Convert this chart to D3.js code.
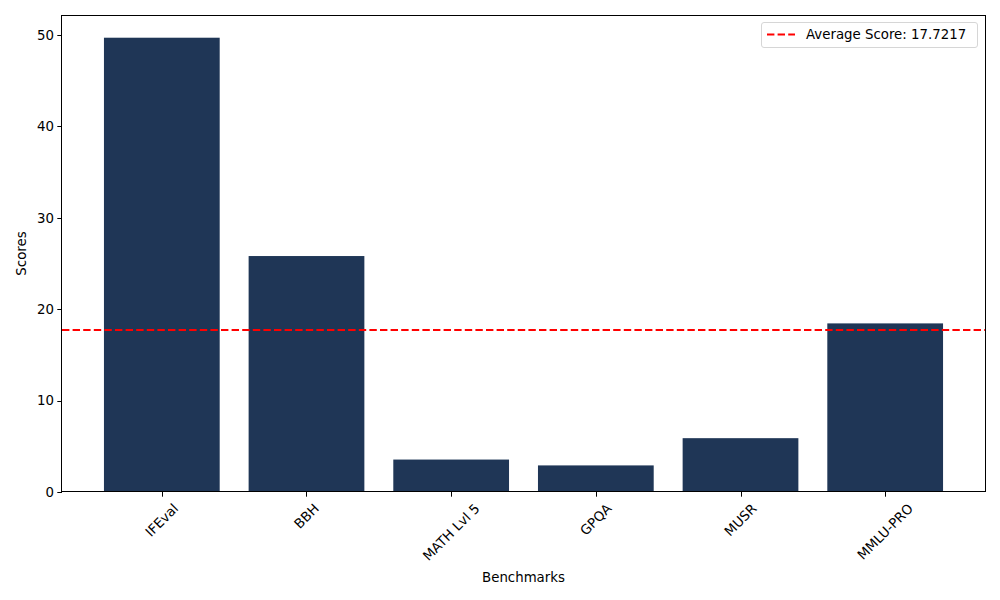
<!DOCTYPE html>
<html><head><meta charset="utf-8">
<script src="https://cdn.jsdelivr.net/npm/d3@7"></script>
<style>body{margin:0;background:#fff}svg{display:block}text{font-family:"DejaVu Sans",sans-serif;fill:#000}</style>
</head><body><svg id="c" width="1000" height="600"></svg>
<script>
const categories = ["IFEval","BBH","MATH Lvl 5","GPQA","MUSR","MMLU-PRO"];
const scores = [49.71, 25.82, 3.55, 2.91, 5.89, 18.45];
const avgLabel = "Average Score: 17.7217";
const yTicks = [0,10,20,30,40,50];

const svg = d3.select("#c");
const L=62, R=985, T=15, B=492;
const avg = d3.mean(scores);
const x = d3.scaleLinear().domain([-0.69, 5.69]).range([L,R]);
const y = d3.scaleLinear().domain([0, d3.max(scores)*1.05]).range([B,T]);
const fs = 13.33;

svg.append("g").selectAll("rect").data(scores).join("rect")
  .attr("x",(d,i)=>x(i-0.4)).attr("width",(d,i)=>x(i+0.4)-x(i-0.4))
  .attr("y",d=>y(d)).attr("height",d=>B-y(d)).attr("fill","#1f3656");

svg.append("line").attr("x1",L).attr("x2",R).attr("y1",y(avg)).attr("y2",y(avg))
  .attr("stroke","#ff0000").attr("stroke-width",2).attr("stroke-dasharray","7.4,3.2");

// y axis
const ya = svg.append("g");
yTicks.forEach(t=>{
  const yy = Math.round(y(t))+0.5;
  ya.append("line").attr("x1",L-4.7).attr("x2",L).attr("y1",yy).attr("y2",yy).attr("stroke","#000").attr("stroke-width",1);
  ya.append("text").attr("x",L-8).attr("y",y(t)).attr("dy","0.35em").attr("text-anchor","end").attr("font-size",fs).text(t);
});
// x axis
const xa = svg.append("g");
categories.forEach((c,i)=>{
  const cx = x(i);
  const xx = Math.round(cx)+0.5;
  xa.append("line").attr("x1",xx).attr("x2",xx).attr("y1",B).attr("y2",B+4.7).attr("stroke","#000").attr("stroke-width",1);
  const t = xa.append("text").attr("font-size",fs).attr("text-anchor","middle").attr("dy","0.35em").text(c);
  const w = t.node().getComputedTextLength();
  const h = fs*1.0;
  const bh = (w+h)*Math.SQRT1_2;
  const cy = B+4.7+4.7+bh/2;
  t.attr("transform",`translate(${cx},${cy}) rotate(-45)`);
});
svg.append("rect").attr("x",L-0.5).attr("y",T+0.5).attr("width",R-L+1).attr("height",B-T-1)
  .attr("fill","none").attr("stroke","#000").attr("stroke-width",1);

svg.append("text").attr("x",(L+R)/2).attr("y",582).attr("text-anchor","middle").attr("font-size",fs).text("Benchmarks");
svg.append("text").attr("transform",`translate(26,${(T+B)/2}) rotate(-90)`).attr("text-anchor","middle").attr("font-size",fs).text("Scores");

// legend
const lg = svg.append("g");
lg.append("rect").attr("x",761.5).attr("y",22.5).attr("width",216).attr("height",25).attr("rx",2.5)
  .attr("fill","#fff").attr("fill-opacity",0.8).attr("stroke","#d6d6d6").attr("stroke-width",1);
lg.append("line").attr("x1",767).attr("x2",795).attr("y1",34.5).attr("y2",34.5)
  .attr("stroke","#ff0000").attr("stroke-width",2).attr("stroke-dasharray","7.4,3.2");
lg.append("text").attr("x",806).attr("y",34.5).attr("dy","0.35em").attr("font-size",fs).text(avgLabel);
</script></body></html>
